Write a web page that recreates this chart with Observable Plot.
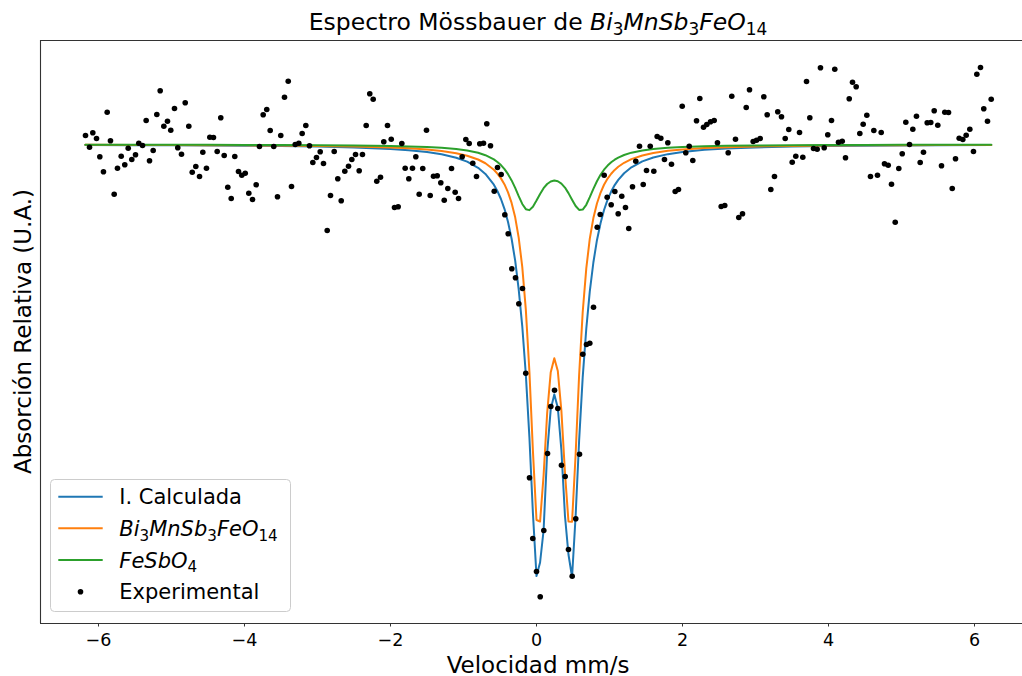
<!DOCTYPE html>
<html><head><meta charset="utf-8">
<script src="https://cdn.jsdelivr.net/npm/d3@7"></script>
<script src="https://cdn.jsdelivr.net/npm/@observablehq/plot@0.6"></script>
<style>body{margin:0;background:#fff} svg{display:block}</style>
</head><body><div id="chart"></div>
<script>
// Experimental points: velocity (mm/s) and relative signal (U.A.)
const velExp = [
-6.178,-6.123,-6.078,-6.027,-5.982,-5.932,-5.881,-5.836,-5.785,-5.740,
-5.689,-5.640,-5.593,-5.544,-5.493,-5.448,-5.397,-5.347,-5.301,-5.251,
-5.201,-5.155,-5.105,-5.055,-5.010,-4.959,-4.914,-4.863,-4.812,-4.763,
-4.716,-4.667,-4.616,-4.571,-4.521,-4.475,-4.425,-4.374,-4.325,-4.278,
-4.229,-4.182,-4.133,-4.082,-4.037,-3.990,-3.941,-3.890,-3.840,-3.795,
-3.744,-3.695,-3.648,-3.599,-3.548,-3.503,-3.452,-3.401,-3.356,-3.305,
-3.256,-3.210,-3.160,-3.110,-3.064,-3.014,-2.963,-2.918,-2.867,-2.822,
-2.771,-2.722,-2.675,-2.626,-2.575,-2.530,-2.479,-2.429,-2.384,-2.333,
-2.284,-2.237,-2.188,-2.137,-2.092,-2.041,-1.990,-1.945,-1.895,-1.845,
-1.799,-1.749,-1.699,-1.653,-1.607,-1.558,-1.507,-1.456,-1.411,-1.360,
-1.311,-1.264,-1.215,-1.164,-1.114,-1.068,-1.018,-0.968,-0.922,-0.873,
-0.822,-0.777,-0.726,-0.681,-0.630,-0.579,-0.534,-0.484,-0.434,-0.388,
-0.338,-0.288,-0.242,-0.192,-0.147,-0.096,-0.051,0.000,0.051,0.100,
0.151,0.196,0.247,0.292,0.342,0.393,0.438,0.489,0.538,0.589,
0.634,0.685,0.730,0.781,0.832,0.873,0.927,0.968,1.023,1.073,
1.119,1.168,1.219,1.264,1.315,1.360,1.411,1.462,1.507,1.558,
1.607,1.653,1.703,1.753,1.799,1.849,1.900,1.945,1.996,2.045,
2.092,2.141,2.192,2.237,2.288,2.333,2.384,2.434,2.479,2.530,
2.579,2.626,2.675,2.726,2.771,2.822,2.873,2.918,2.968,3.014,
3.064,3.114,3.160,3.210,3.260,3.305,3.356,3.407,3.456,3.503,
3.552,3.603,3.648,3.699,3.744,3.795,3.845,3.890,3.941,3.990,
4.041,4.086,4.137,4.188,4.233,4.284,4.329,4.379,4.429,4.475,
4.525,4.575,4.621,4.671,4.722,4.767,4.818,4.863,4.914,4.963,
5.010,5.059,5.110,5.155,5.205,5.256,5.301,5.352,5.401,5.448,
5.497,5.548,5.593,5.644,5.695,5.740,5.790,5.840,5.886,5.936,
5.986,6.032,6.082,6.127,6.178,6.229];
const absExp = [
1.00225,0.99933,1.00293,1.0015,0.99693,0.99318,1.00808,1.00093,0.98758,0.99408,
0.99708,0.99493,0.99908,0.99625,0.99743,1.00033,0.99975,1.006,0.99593,0.9985,
1.0075,1.01343,1.00458,1.00583,1.00358,1.009,0.99918,0.99758,1.01043,1.00458,
0.99308,0.9945,0.992,0.99808,0.99408,1.00183,1.00175,0.99825,1.00668,0.99725,
0.98933,0.9865,0.997,0.99325,0.99233,0.99283,0.98783,0.98625,0.98993,0.9995,
1.00743,1.00875,1.0035,0.9995,0.98693,1.00225,1.01183,1.01583,0.9895,1.0,
1.00033,1.00275,1.00475,0.99968,0.9955,0.99675,0.99818,0.99525,0.9785,0.98725,
0.99825,0.99143,0.98593,0.99333,0.99458,0.99625,0.9975,0.99343,0.9975,1.00475,
1.01268,1.01133,0.99083,0.99183,1.00068,1.00475,1.00133,0.98425,0.98443,1.00025,
0.99408,0.99143,0.99408,0.99693,0.98758,0.994,1.00358,0.98725,0.99208,0.99218,
0.99043,0.98608,0.989,0.994,0.98808,0.9865,0.99693,1.00125,1.00025,0.99533,
0.992,1.00018,1.00033,1.00518,0.99968,0.98833,0.99425,0.9925,0.98243,0.97768,
0.96893,0.96668,0.96018,0.964,0.94283,0.91668,0.9015,0.89325,0.88693,0.9035,
0.92275,0.9345,0.93858,0.934,0.91983,0.917,0.89875,0.89208,0.90643,0.92258,
0.94758,0.95,0.95033,0.95933,0.97933,0.9825,0.99233,0.98683,0.98493,0.98825,
0.98268,0.98708,0.98425,0.979,0.98943,0.99583,0.99958,0.99,0.9935,0.99958,
0.99333,1.002,1.00158,0.99625,1.00043,0.99508,0.98825,0.98875,1.00958,0.99793,
0.99958,0.996,1.00593,1.0115,1.00433,1.005,1.00568,1.006,1.00043,0.9845,
0.98475,0.99793,1.01208,1.00133,0.98175,0.98268,1.00925,1.01368,1.00075,1.00108,
1.0015,1.01193,1.00743,0.98875,0.992,1.00818,1.00693,1.0015,1.00375,0.99558,
0.99708,1.003,0.99683,1.01575,1.00668,0.999,0.99883,1.01918,0.99918,1.00243,
1.006,1.01883,1.00058,1.00083,0.99668,1.01143,1.01558,1.01443,1.00275,1.00508,
1.00733,0.992,1.0035,0.99233,1.003,0.99518,0.99483,0.99008,0.98058,0.994,
0.99768,1.00558,1.0,1.00383,1.00708,0.9955,0.99808,1.00543,1.0055,1.00843,
1.00483,0.99468,1.00808,1.008,0.989,0.99643,1.00158,1.00125,1.00233,1.00383,
0.99825,1.01758,1.01925,1.00893,1.00583,1.01133];

// Fitted curves read at these velocities
const velFit = [-6.18,-5.5,-5.0,-4.5,-4.0,-3.5,-3.0,-2.5,-2.0,-1.75,-1.5,-1.3,-1.1,-0.95,-0.8,-0.7,
-0.584,-0.536,-0.487,-0.438,-0.390,-0.341,-0.292,-0.244,-0.195,-0.146,-0.097,-0.049,0,0.049,0.097,0.146,0.195,0.244,0.292,0.341,0.390,0.438,0.487,0.536,0.584,0.633,0.682,0.730,0.779,0.828,0.877,0.925,0.974,1.023,1.071,1.120,
1.2,1.3,1.45,1.6,1.8,2.0,2.3,2.6,3.0,3.5,4.0,4.5,5.0,5.5,6.23];
const calcFit = [0.99987,0.99984,0.9998,0.99976,0.9997,0.99961,0.99948,0.99927,0.99889,0.99858,0.99812,0.99756,0.9967,0.99571,0.99418,0.99264,
0.98995,0.98838,0.98638,0.98385,0.98063,0.97643,0.97095,0.9638,0.95455,0.94248,0.92675,0.9078,0.8921,0.8955,0.9035,0.92298,0.93383,0.93753,0.93418,0.92363,0.90713,0.8975,0.89188,0.90713,0.92608,0.94185,0.95395,0.9633,0.9705,0.97608,0.98033,0.98363,0.9862,0.98823,0.98985,0.99115,
0.99281,0.99429,0.99578,0.99675,0.99759,0.99814,0.99866,0.99899,0.99927,0.99948,0.99961,0.9997,0.99976,0.9998,0.99985];
const biFit = [0.99991,0.99989,0.99987,0.99984,0.99979,0.99974,0.99965,0.99951,0.99925,0.99905,0.99875,0.99838,0.99783,0.9972,0.99625,0.99531,
0.99368,0.99273,0.99153,0.99001,0.98803,0.98539,0.98179,0.97673,0.9694,0.95865,0.94318,0.92335,0.90613,0.90575,0.9172,0.93285,0.94308,0.94655,0.94338,0.9334,0.9179,0.90575,0.90568,0.9225,0.94243,0.95813,0.96903,0.97647,0.98161,0.98526,0.98793,0.98994,0.99147,0.99268,0.99365,0.99443,
0.99543,0.99634,0.99726,0.99787,0.99841,0.99876,0.99911,0.99932,0.99951,0.99965,0.99974,0.9998,0.99984,0.99987,0.9999];
const feFit = [0.99996,0.99995,0.99994,0.99992,0.9999,0.99987,0.99983,0.99976,0.99964,0.99953,0.99937,0.99918,0.99887,0.9985,0.99793,0.99733,
0.99628,0.99564,0.99485,0.99385,0.99259,0.99102,0.98915,0.98709,0.98514,0.98383,0.98359,0.98445,0.98598,0.98764,0.98907,0.99012,0.99076,0.99099,0.99081,0.99023,0.98923,0.98784,0.98619,0.98462,0.98364,0.98373,0.98493,0.98683,0.9889,0.9908,0.99241,0.9937,0.99473,0.99555,0.9962,0.99673,
0.99738,0.99796,0.99852,0.99888,0.99918,0.99938,0.99956,0.99967,0.99976,0.99983,0.99988,0.9999,0.99992,0.99994,0.99995];

const xTicks = [-6,-4,-2,0,2,4,6];
const seriesColors = ["#1f77b4","#ff7f0e","#2ca02c"];
const titleParts = [{t:"Espectro Mössbauer de "},{t:"Bi",i:1},{t:"3",s:1},{t:"MnSb",i:1},{t:"3",s:1},{t:"FeO",i:1},{t:"14",s:1}];
const legendItems = [
  [{t:"I. Calculada"}],
  [{t:"Bi",i:1},{t:"3",s:1},{t:"MnSb",i:1},{t:"3",s:1},{t:"FeO",i:1},{t:"14",s:1}],
  [{t:"FeSbO",i:1},{t:"4",s:1}],
  [{t:"Experimental"}]
];

const exp = velExp.map((v,i)=>({v, a: absExp[i]}));
const fit = velFit.map((v,i)=>({v, calc: calcFit[i], bi: biFit[i], fe: feFit[i]}));

const xDomain = [-6.7945, 6.6575];
const yDomain = [0.88025, 1.026];
const FONT = "DejaVu Sans";

const svgNode = Plot.plot({
  width: 1022, height: 676,
  marginLeft: 40, marginRight: 0, marginTop: 40, marginBottom: 53,
  style: {fontFamily: FONT, background: "white", color: "black", overflow: "visible"},
  x: {domain: xDomain},
  y: {domain: yDomain},
  marks: [
    Plot.line(fit, {x: "v", y: "calc", stroke: seriesColors[0], strokeWidth: 2}),
    Plot.line(fit, {x: "v", y: "bi", stroke: seriesColors[1], strokeWidth: 2}),
    Plot.line(fit, {x: "v", y: "fe", stroke: seriesColors[2], strokeWidth: 2}),
    Plot.dot(exp, {x: "v", y: "a", r: 2.8, fill: "black", stroke: "none"}),
    Plot.ruleX([xDomain[0]], {stroke: "#333", strokeWidth: 1.1}),
    Plot.ruleY([yDomain[1]], {stroke: "#333", strokeWidth: 1.1}),
    Plot.ruleY([yDomain[0]], {stroke: "#333", strokeWidth: 1.1}),
    Plot.axisX({ticks: xTicks, tickSize: 3.5, tickPadding: 7, fontSize: 17.5, stroke: "#333",
      tickFormat: d => d < 0 ? "\u2212" + Math.abs(d) : String(d), label: null}),
    Plot.axisY({ticks: [], label: null, tickSize: 0})
  ]
});

const svg = d3.select(svgNode);

function richText(parent, x, y, parts, fs, anchor) {
  const t = parent.append("text").attr("x", x).attr("y", y)
    .attr("font-size", fs).attr("font-family", FONT)
    .attr("text-anchor", anchor).attr("fill", "black");
  let shift = 0;
  for (const p of parts) {
    const ts = t.append("tspan").text(p.t);
    if (p.i) ts.attr("font-style", "italic");
    const target = p.s ? fs * 0.22 : 0;
    if (target !== shift) { ts.attr("dy", target - shift); shift = target; }
    if (p.s) ts.attr("font-size", fs * 0.72);
  }
  return t;
}

// Title
richText(svg, 538, 29.5, titleParts, 23.5, "middle");
// Axis labels
richText(svg, 538, 673, [{t:"Velocidad mm/s"}], 23, "middle");
svg.append("text").attr("transform", "translate(30.5,331.5) rotate(-90)")
  .attr("text-anchor", "middle").attr("font-size", 23).attr("font-family", FONT)
  .attr("fill", "black").text("Absorción Relativa (U.A.)");

// Legend
const lg = svg.append("g");
lg.append("rect").attr("x", 50.5).attr("y", 479.5).attr("width", 240).attr("height", 132)
  .attr("rx", 4).attr("fill", "white").attr("fill-opacity", 0.8).attr("stroke", "#cccccc");
const rows = [496.7, 528.3, 560, 591.7];
legendItems.forEach((parts, i) => {
  if (i < 3) {
    lg.append("line").attr("x1", 58.3).attr("x2", 102.7).attr("y1", rows[i]).attr("y2", rows[i])
      .attr("stroke", seriesColors[i]).attr("stroke-width", 2);
  } else {
    lg.append("circle").attr("cx", 80.5).attr("cy", rows[i]).attr("r", 2.8).attr("fill", "black");
  }
  richText(lg, 119.3, rows[i] + 7.7, parts, 21, "start");
});

document.getElementById("chart").appendChild(svgNode);
</script>
</body></html>
